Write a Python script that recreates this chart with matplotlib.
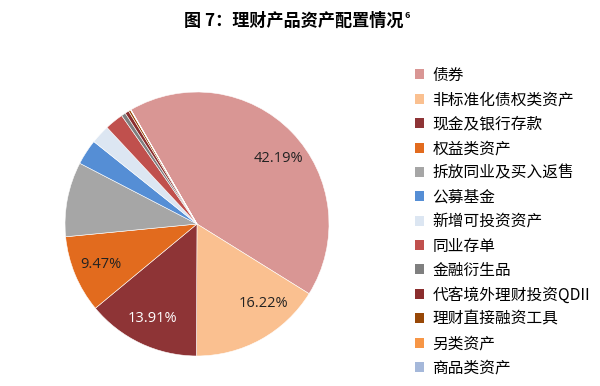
import numpy as np
import matplotlib
matplotlib.use("Agg")
import matplotlib.pyplot as plt
from matplotlib.patches import Patch

plt.rcParams['font.family'] = ['Noto Sans CJK SC', 'DejaVu Sans']

# 资产类别及占比(%)
labels = ["债券", "非标准化债权类资产", "现金及银行存款", "权益类资产", "拆放同业及买入返售",
          "公募基金", "新增可投资资产", "同业存单", "金融衍生品", "代客境外理财投资QDII",
          "理财直接融资工具", "另类资产", "商品类资产"]
values = [42.19, 16.22, 13.91, 9.47, 9.15, 3.12, 2.33, 2.28, 0.52, 0.48, 0.25, 0.05, 0.03]
colors = ["#D99694", "#FAC090", "#8E3436", "#E26B1E", "#A6A6A6",
          "#558ED5", "#DCE6F2", "#C0504D", "#7F7F7F", "#8B2E2E",
          "#984807", "#F79646", "#A5B8DA"]
shown = [True, True, True, True] + [False] * 9
label_colors = ["#222222", "#222222", "white", "#222222"]
# 标签角度微调(度, 逆时针为正)
label_shift = [-5, 11, 0, 0]

fig = plt.figure(figsize=(6, 3.86), dpi=100)
ax = fig.add_axes([65 / 600, 30 / 386, 264 / 600, 264 / 386])

wedges, _ = ax.pie(values, colors=colors, startangle=120, counterclock=False,
                   wedgeprops=dict(edgecolor="white", linewidth=0.4))
ax.set_aspect("equal")
ax.set_xlim(-1, 1)
ax.set_ylim(-1, 1)

k = 0
for i, w in enumerate(wedges):
    if not shown[i]:
        continue
    ang = np.deg2rad((w.theta1 + w.theta2) / 2 + label_shift[k])
    r = 0.79
    ax.text(r * np.cos(ang), r * np.sin(ang), "%.2f%%" % values[i],
            ha="center", va="center", fontsize=10.5, color=label_colors[k],
            family=["Open Sans", "DejaVu Sans"])
    k += 1

# 标题 + 上标脚注
title = fig.text(0.49, 0.945, "图 7：理财产品资产配置情况", ha="center", va="center",
                 fontsize=12.3, fontweight="bold")
fig.canvas.draw()
bb = title.get_window_extent()
fig.text(bb.x1 / 600 + 0.002, 0.961, "6", ha="left", va="center",
         fontsize=6.5, fontweight="bold")

handles = [Patch(facecolor=c, edgecolor="none") for c in colors]
fig.legend(handles, labels, loc="upper left", bbox_to_anchor=(415 / 600, 1 - 67 / 386),
           frameon=False, fontsize=11.3, handlelength=0.6, handleheight=0.6,
           handletextpad=0.5, labelspacing=0.47, borderaxespad=0, borderpad=0)

fig.savefig("out.png", dpi=100)
